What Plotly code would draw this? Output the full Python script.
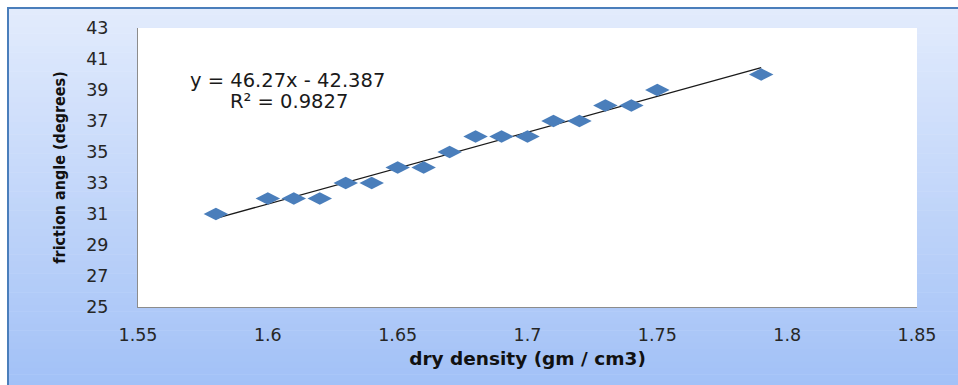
import numpy as np
import plotly.graph_objects as go

# ---- data ----
dry_density = [1.58, 1.60, 1.61, 1.62, 1.63, 1.64, 1.65, 1.66, 1.67, 1.68,
               1.69, 1.70, 1.71, 1.72, 1.73, 1.74, 1.75, 1.79]
friction_angle = [31, 32, 32, 32, 33, 33, 34, 34, 35, 36,
                  36, 36, 37, 37, 38, 38, 39, 40]
x_ticks = [1.55, 1.6, 1.65, 1.7, 1.75, 1.8, 1.85]
x_tick_labels = ["1.55", "1.6", "1.65", "1.7", "1.75", "1.8", "1.85"]
y_ticks = [25, 27, 29, 31, 33, 35, 37, 39, 41, 43]
equation_text = "y = 46.27x - 42.387"
r2_text = "R² = 0.9827"

# ---- layout geometry ----
W, H = 958, 385
ML, MR, MT, MB = 138, 41, 28, 78
PW, PH = W - ML - MR, H - MT - MB


def px_x(p):
    return (p - ML) / PW


def px_y(p):
    return (H - MB - p) / PH


# trendline from least-squares fit of data
coef = np.polyfit(dry_density, friction_angle, 1)
tx = np.array([min(dry_density), max(dry_density)])
ty = np.polyval(coef, tx)

fig = go.Figure()
fig.add_trace(go.Scatter(x=tx, y=ty, mode="lines",
                         line=dict(color="#1a1a1a", width=1.3),
                         showlegend=False, hoverinfo="skip"))
fig.add_trace(go.Scatter(x=dry_density, y=friction_angle, mode="markers",
                         marker=dict(symbol="diamond-wide", size=17.5, color="#4A7EBB",
                                     line=dict(width=0)),
                         showlegend=False))

# gradient background bands
shapes = []
top_c = np.array([0xE3, 0xEC, 0xFD])
bot_c = np.array([0xA2, 0xC1, 0xF7])
y0p, y1p = 8, H + 2
n = 60
for i in range(n):
    a = y0p + (y1p - y0p) * i / n
    b = y0p + (y1p - y0p) * (i + 1) / n + 0.5
    c = top_c + (bot_c - top_c) * (i + 0.5) / n
    shapes.append(dict(type="rect", xref="paper", yref="paper",
                       x0=px_x(8), x1=px_x(W + 2), y0=px_y(b), y1=px_y(a),
                       fillcolor="rgb(%d,%d,%d)" % tuple(c.astype(int)),
                       line=dict(width=0), layer="below"))
# frame border
shapes.append(dict(type="rect", xref="paper", yref="paper",
                   x0=px_x(8), x1=px_x(W + 5), y0=px_y(H + 5), y1=px_y(8),
                   fillcolor="rgba(0,0,0,0)",
                   line=dict(color="#4A7EBB", width=2), layer="below"))
# white plot area
shapes.append(dict(type="rect", xref="paper", yref="paper",
                   x0=0, x1=1, y0=0, y1=1, fillcolor="white",
                   line=dict(width=0), layer="below"))

fig.update_layout(
    width=W, height=H,
    margin=dict(l=ML, r=MR, t=MT, b=MB, pad=0),
    paper_bgcolor="white", plot_bgcolor="white",
    shapes=shapes,
    font=dict(family="DejaVu Sans", color="#262626"),
    xaxis=dict(range=[1.55, 1.85], tickvals=x_ticks, ticktext=x_tick_labels,
               showgrid=False, zeroline=False, showline=True, linecolor="#8c8c8c",
               linewidth=1, ticks="", ticklabelstandoff=12,
               tickfont=dict(size=17.5, color="#262626"),
               title=dict(text="dry density (gm / cm3)", standoff=8,
                          font=dict(family="DejaVu Sans", size=18.5, color="#111111",
                                    weight="bold"))),
    yaxis=dict(range=[25, 43], tickvals=y_ticks,
               showgrid=False, zeroline=False, showline=True, linecolor="#8c8c8c",
               linewidth=1, ticks="", ticklabelstandoff=25,
               tickfont=dict(size=17.5, color="#262626"),
               title=dict(text="friction angle (degrees)", standoff=16,
                          font=dict(family="DejaVu Sans Condensed", size=16,
                                    color="#111111", weight="bold"))),
    annotations=[
        dict(text=equation_text, xref="paper", yref="paper",
             x=px_x(287), y=px_y(80), xanchor="center", yanchor="middle",
             showarrow=False, font=dict(size=19.5, color="#1a1a1a")),
        dict(text=r2_text, xref="paper", yref="paper",
             x=px_x(289), y=px_y(101), xanchor="center", yanchor="middle",
             showarrow=False, font=dict(size=19.5, color="#1a1a1a")),
    ],
)

fig.write_html("out.html")
